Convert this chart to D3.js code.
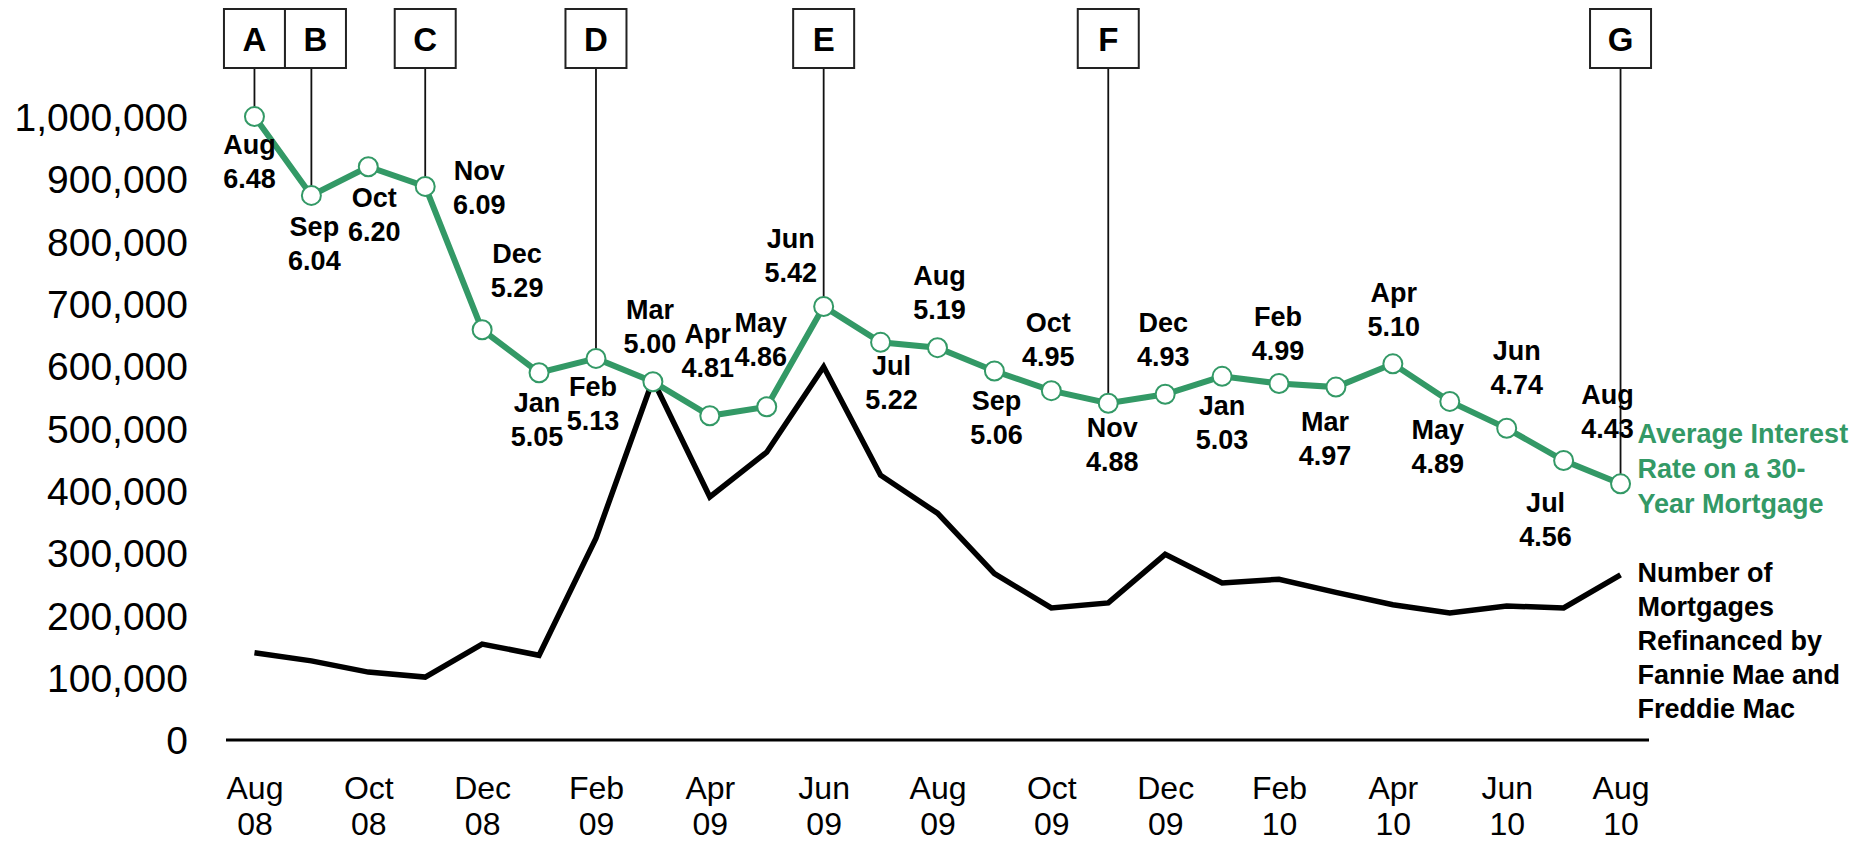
<!DOCTYPE html>
<html>
<head>
<meta charset="utf-8">
<script src="https://cdn.jsdelivr.net/npm/d3@7"></script>
<style>
  html, body { margin: 0; padding: 0; background: #ffffff; }
  svg { display: block; font-family: "Liberation Sans", Arial, sans-serif; }
</style>
</head>
<body>
<svg id="chart" width="1868" height="841"></svg>
<script>
// ---- data ----
const months = ["Aug","Sep","Oct","Nov","Dec","Jan","Feb","Mar","Apr","May","Jun","Jul","Aug",
                "Sep","Oct","Nov","Dec","Jan","Feb","Mar","Apr","May","Jun","Jul","Aug"];
const years  = ["08","08","08","08","08","09","09","09","09","09","09","09","09",
                "09","09","09","09","10","10","10","10","10","10","10","10"];
const refinanced = [140000,127000,109000,101000,154000,136000,324000,578000,390000,462000,
                    599000,425000,364000,267000,212000,220000,298000,252000,258000,237000,
                    217000,204000,215000,212000,265000];
const rates = [6.48,6.04,6.20,6.09,5.29,5.05,5.13,5.00,4.81,4.86,5.42,5.22,5.19,
               5.06,4.95,4.88,4.93,5.03,4.99,4.97,5.10,4.89,4.74,4.56,4.43];
const yTicks = [0,100000,200000,300000,400000,500000,600000,700000,800000,900000,1000000];
const xTickIndex = [0,2,4,6,8,10,12,14,16,18,20,22,24];
const calloutLetters = ["A","B","C","D","E","F","G"];
const calloutIndex = [0,1,3,6,10,15,24];
const rateLegend = ["Average Interest","Rate on a 30-","Year Mortgage"];
const refiLegend = ["Number of","Mortgages","Refinanced by","Fannie Mae and","Freddie Mac"];

// ---- layout (label placement offsets relative to each point) ----
const labelOffsets = [[-5,37],[3,41],[6,40],[54,-6],[35,-67],[-2,39],[-3,38],[-3,-63],[-2,-73],
  [-6,-75],[-33,-58],[11,33],[2,-63],[2,39],[-3,-59],[4,34],[-2,-62],[0,39],[-1,-58],[-11,44],
  [1,-62],[-12,38],[10,-68],[-18,51],[-13,-80]];

const GREEN = "#339966";
const svg = d3.select("#chart");

const x = d3.scalePoint().domain(d3.range(months.length)).range([226, 1649]).padding(0.5);
const y = d3.scaleLinear().domain([0, 1000000]).range([740, 117]);
const y2 = d3.scaleLinear().domain([3, 6.5]).range([740, 113]);

// y axis labels
const yAxis = d3.axisLeft(y).tickValues(yTicks).tickSize(0).tickPadding(0)
  .tickFormat(d3.format(","));
const gy = svg.append("g").attr("transform", "translate(188,0)").call(yAxis);
gy.select(".domain").remove();
gy.selectAll("text").attr("font-size", 39).attr("fill", "#000")
  .attr("font-family", "'Liberation Sans', Arial, sans-serif").attr("dy", "0.35em");

// x axis
const xAxis = d3.axisBottom(x).tickValues(xTickIndex).tickSize(0).tickFormat(() => "");
const gx = svg.append("g").attr("transform", "translate(0,740)").call(xAxis);
gx.select(".domain").attr("stroke", "#000").attr("stroke-width", 3)
  .attr("d", "M226,0H1649");
gx.selectAll(".tick").each(function(d) {
  const t = d3.select(this).select("text")
    .attr("y", 0).attr("dy", null)
    .attr("font-size", 32).attr("fill", "#000")
    .attr("font-family", "'Liberation Sans', Arial, sans-serif");
  t.append("tspan").attr("x", 0).attr("y", 59).text(months[d]);
  t.append("tspan").attr("x", 0).attr("y", 95).text(years[d]);
});

// callout boxes and lines
const boxW = 61, boxTop = 9, boxH = 59;
let prevRight = -Infinity;
const boxes = calloutIndex.map((idx, k) => {
  let cx = x(idx);
  let left = cx - boxW / 2;
  if (left < prevRight) left = prevRight;
  prevRight = left + boxW;
  return { idx, letter: calloutLetters[k], left };
});
const gc = svg.append("g");
boxes.forEach(b => {
  gc.append("line")
    .attr("x1", x(b.idx)).attr("x2", x(b.idx))
    .attr("y1", boxTop + boxH).attr("y2", y2(rates[b.idx]))
    .attr("stroke", "#111").attr("stroke-width", 1.8);
  gc.append("rect")
    .attr("x", b.left).attr("y", boxTop).attr("width", boxW).attr("height", boxH)
    .attr("fill", "#fff").attr("stroke", "#222").attr("stroke-width", 2);
  gc.append("text")
    .attr("x", b.left + boxW / 2).attr("y", boxTop + 42)
    .attr("text-anchor", "middle").attr("font-size", 33).attr("font-weight", "bold")
    .attr("fill", "#000").text(b.letter);
});

// black line: refinanced
const lineRefi = d3.line().x((d, i) => x(i)).y(d => y(d));
svg.append("path").datum(refinanced)
  .attr("d", lineRefi).attr("fill", "none")
  .attr("stroke", "#000").attr("stroke-width", 5.5);

// green line: rates
const lineRate = d3.line().x((d, i) => x(i)).y(d => y2(d));
svg.append("path").datum(rates)
  .attr("d", lineRate).attr("fill", "none")
  .attr("stroke", GREEN).attr("stroke-width", 6);

svg.append("g").selectAll("circle").data(rates).join("circle")
  .attr("cx", (d, i) => x(i)).attr("cy", d => y2(d)).attr("r", 9.5)
  .attr("fill", "#fff").attr("stroke", GREEN).attr("stroke-width", 2);

// data labels
const gl = svg.append("g");
rates.forEach((v, i) => {
  const [dx, dy] = labelOffsets[i];
  const t = gl.append("text")
    .attr("text-anchor", "middle").attr("font-size", 27).attr("font-weight", "bold")
    .attr("fill", "#000");
  t.append("tspan").attr("x", x(i) + dx).attr("y", y2(v) + dy).text(months[i]);
  t.append("tspan").attr("x", x(i) + dx).attr("y", y2(v) + dy + 34).text(v.toFixed(2));
});

// series labels
const last = rates.length - 1;
const tg = svg.append("text").attr("font-size", 27).attr("font-weight", "bold").attr("fill", GREEN);
rateLegend.forEach((s, k) => {
  tg.append("tspan").attr("x", x(last) + 17).attr("y", y2(rates[last]) - 41 + k * 35).text(s);
});
const tb = svg.append("text").attr("font-size", 27).attr("font-weight", "bold").attr("fill", "#000");
refiLegend.forEach((s, k) => {
  tb.append("tspan").attr("x", x(last) + 17).attr("y", y(refinanced[last]) + 7 + k * 34).text(s);
});
</script>
</body>
</html>
